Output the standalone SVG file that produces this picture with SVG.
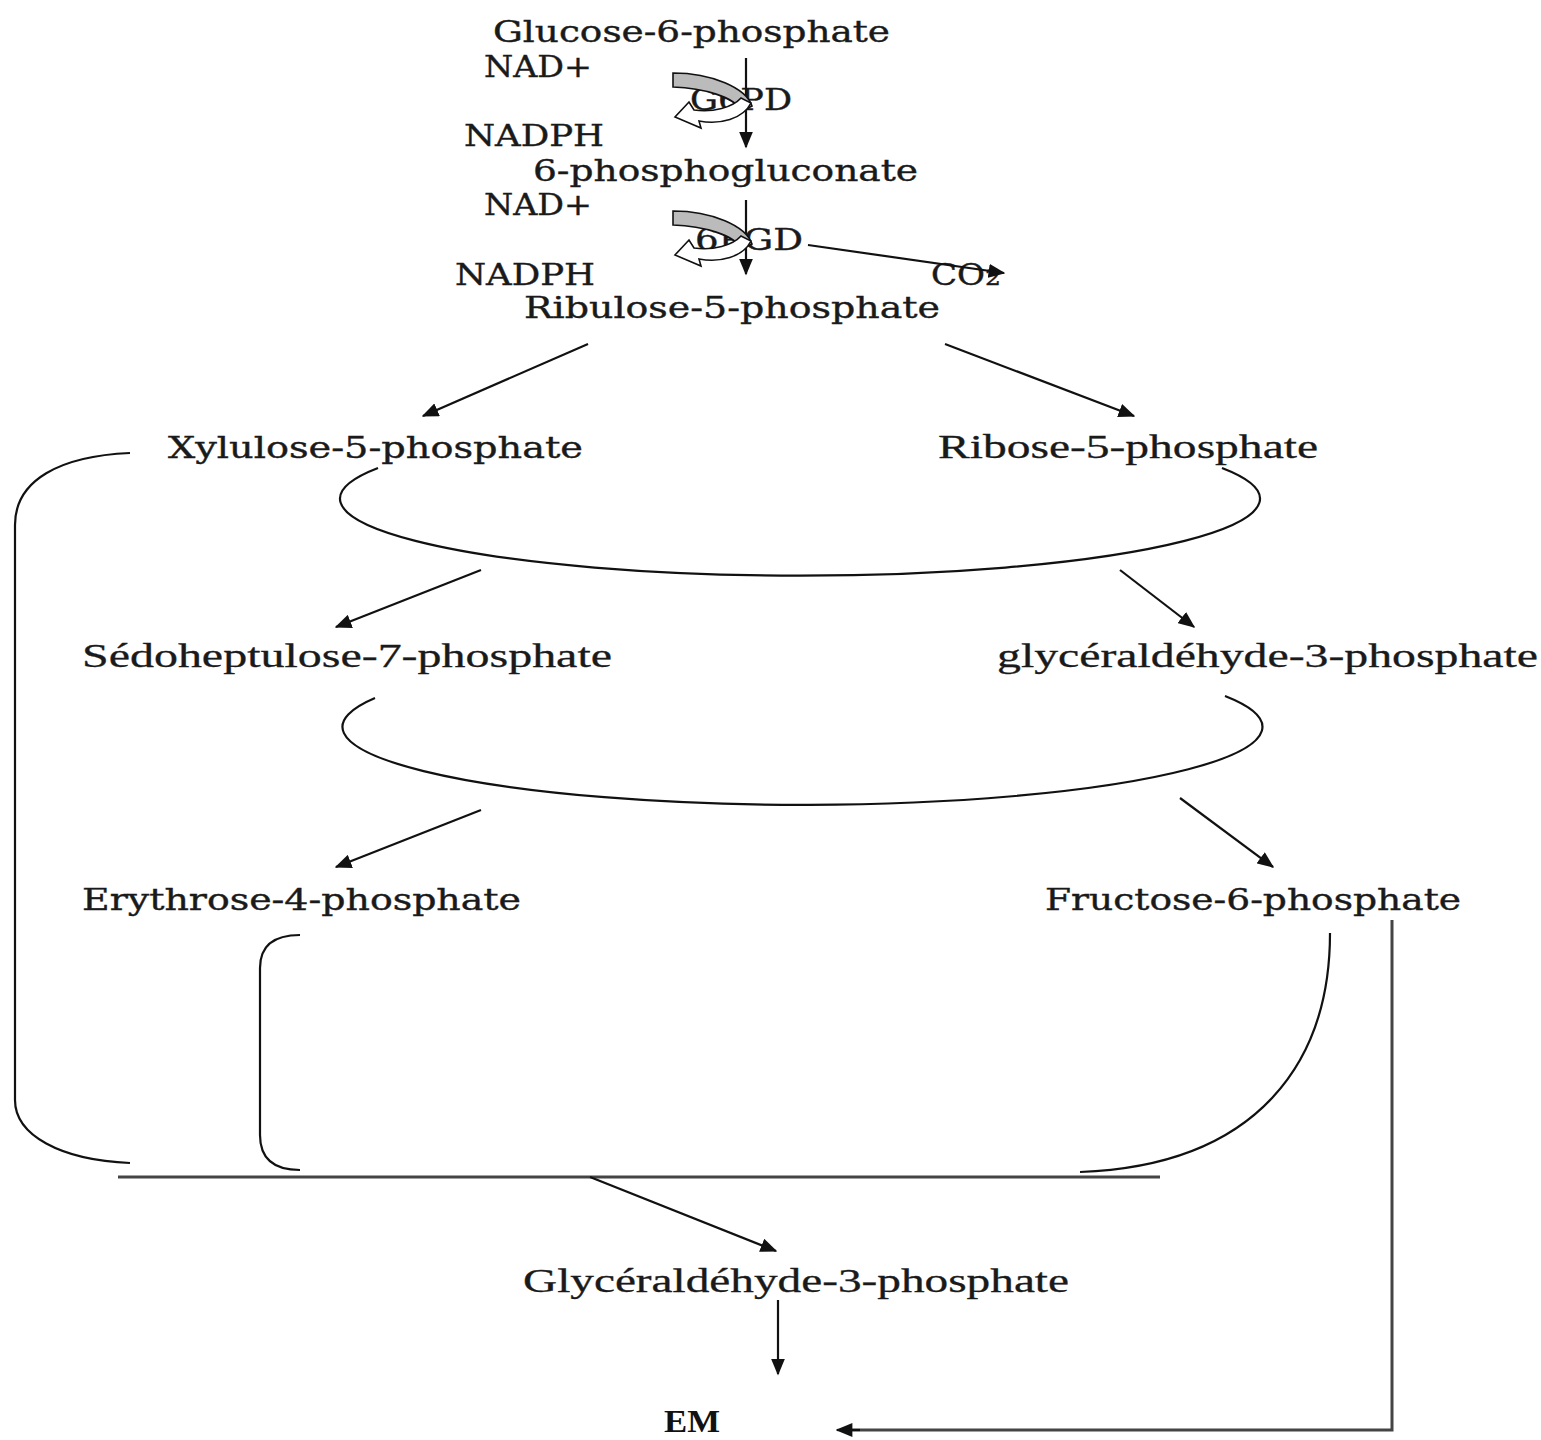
<svg xmlns="http://www.w3.org/2000/svg" width="1541" height="1440" viewBox="0 0 1541 1440">
<style>
.s{font-family:"DejaVu Serif","Liberation Serif",serif;font-size:30px;fill:#1a1a1a;stroke:#1a1a1a;stroke-width:0.4}
.c{font-family:"Liberation Serif","DejaVu Serif",serif;font-size:33px;fill:#1a1a1a;stroke:#1a1a1a;stroke-width:0.3}
.b{font-family:"Liberation Serif","DejaVu Serif",serif;font-size:32px;font-weight:bold;fill:#111}
.ln{fill:none;stroke:#111;stroke-width:2.2}
.gl{fill:none;stroke:#444;stroke-width:3}
.ar{fill:none;stroke:#111;stroke-width:2.2;marker-end:url(#ah)}
</style>
<defs>
<marker id="ah" viewBox="0 0 12 10" refX="11" refY="5" markerWidth="17" markerHeight="14" markerUnits="userSpaceOnUse" orient="auto">
<path d="M0,0 L12,5 L0,10 Z" fill="#111"/>
</marker>
<g id="cof">
<path d="M673,73 C712,73 746,88 752,106 L742,111 C734,97 704,88 673,87 Z" fill="#bbb" stroke="#111" stroke-width="1.6"/>
<path d="M751,103 C743,119 720,125 699,121 L701,128 L675,117 L689,102 L694,110 C713,113 733,107 741,98 Z" fill="#fff" stroke="#111" stroke-width="1.6"/>
</g>
</defs>
<rect width="1541" height="1440" fill="#fff"/>

<g id="nodes">
<g id="g6p"><text class="s" x="493" y="42" textLength="397" lengthAdjust="spacingAndGlyphs">Glucose-6-phosphate</text></g>
<g id="nad1"><text class="s" x="484" y="77" textLength="108" lengthAdjust="spacingAndGlyphs">NAD+</text></g>
<g id="g6pd"><text class="s" x="690" y="110" textLength="102" lengthAdjust="spacingAndGlyphs">G6PD</text></g>
<g id="nadph1"><text class="s" x="464" y="146" textLength="140" lengthAdjust="spacingAndGlyphs">NADPH</text></g>
<g id="pg6"><text class="s" x="533" y="181" textLength="385" lengthAdjust="spacingAndGlyphs">6-phosphogluconate</text></g>
<g id="nad2"><text class="s" x="484" y="215" textLength="108" lengthAdjust="spacingAndGlyphs">NAD+</text></g>
<g id="pgd6"><text class="s" x="695" y="250" textLength="108" lengthAdjust="spacingAndGlyphs">6PGD</text></g>
<g id="nadph2"><text class="s" x="455" y="285" textLength="140" lengthAdjust="spacingAndGlyphs">NADPH</text></g>
<g id="co2"><text class="s" x="931" y="285" textLength="70" lengthAdjust="spacingAndGlyphs">CO<tspan font-size="22">2</tspan></text></g>
<g id="ru5p"><text class="s" x="524" y="318" textLength="416" lengthAdjust="spacingAndGlyphs">Ribulose-5-phosphate</text></g>
<g id="xu5p"><text class="s" x="168" y="458" textLength="415" lengthAdjust="spacingAndGlyphs">Xylulose-5-phosphate</text></g>
<g id="r5p"><text class="c" x="938" y="458" textLength="380" lengthAdjust="spacingAndGlyphs">Ribose-5-phosphate</text></g>
<g id="s7p"><text class="c" x="82" y="667" textLength="530" lengthAdjust="spacingAndGlyphs">Sédoheptulose-7-phosphate</text></g>
<g id="gap1"><text class="c" x="997" y="667" textLength="541" lengthAdjust="spacingAndGlyphs">glycéraldéhyde-3-phosphate</text></g>
<g id="e4p"><text class="s" x="82" y="910" textLength="439" lengthAdjust="spacingAndGlyphs">Erythrose-4-phosphate</text></g>
<g id="f6p"><text class="s" x="1045" y="910" textLength="416" lengthAdjust="spacingAndGlyphs">Fructose-6-phosphate</text></g>
<g id="gap2"><text class="c" x="523" y="1292" textLength="546" lengthAdjust="spacingAndGlyphs">Glycéraldéhyde-3-phosphate</text></g>
<g id="em"><text class="b" x="664" y="1432" textLength="56" lengthAdjust="spacingAndGlyphs">EM</text></g>
</g>

<g id="connectors">
<line class="ar" x1="746" y1="58" x2="746" y2="147"/>
<use href="#cof"/>
<line class="ar" x1="746" y1="200" x2="746" y2="274"/>
<use href="#cof" transform="translate(0,138)"/>
<line class="ar" x1="808" y1="245" x2="1004" y2="273"/>
<line class="ar" x1="588" y1="344" x2="423" y2="416"/>
<line class="ar" x1="945" y1="344" x2="1134" y2="416"/>
<path class="ln" d="M378,468 A460,77 0 1,0 1222,468"/>
<line class="ar" x1="481" y1="570" x2="336" y2="627"/>
<line class="ar" x1="1120" y1="570" x2="1194" y2="627"/>
<path class="ln" d="M375,698 A460,78 0 1,0 1225,696"/>
<line class="ar" x1="481" y1="810" x2="336" y2="867"/>
<line class="ar" x1="1180" y1="798" x2="1273" y2="867"/>
<path class="ln" d="M130,453 C60,456 15,480 15,525 L15,1100 C15,1135 60,1160 130,1163"/>
<path class="ln" d="M300,935 C275,935 260,945 260,968 L260,1135 C260,1160 275,1170 300,1170"/>
<path class="ln" d="M1330,933 C1330,1060 1260,1165 1080,1172"/>
<line class="gl" x1="118" y1="1177" x2="1160" y2="1177"/>
<line class="ar" x1="590" y1="1177" x2="776" y2="1251"/>
<line class="ar" x1="778" y1="1300" x2="778" y2="1374"/>
<path class="gl" d="M1392,920 L1392,1430 L850,1430"/>
<line class="ar" x1="860" y1="1430" x2="837" y2="1430"/>
</g>
</svg>
